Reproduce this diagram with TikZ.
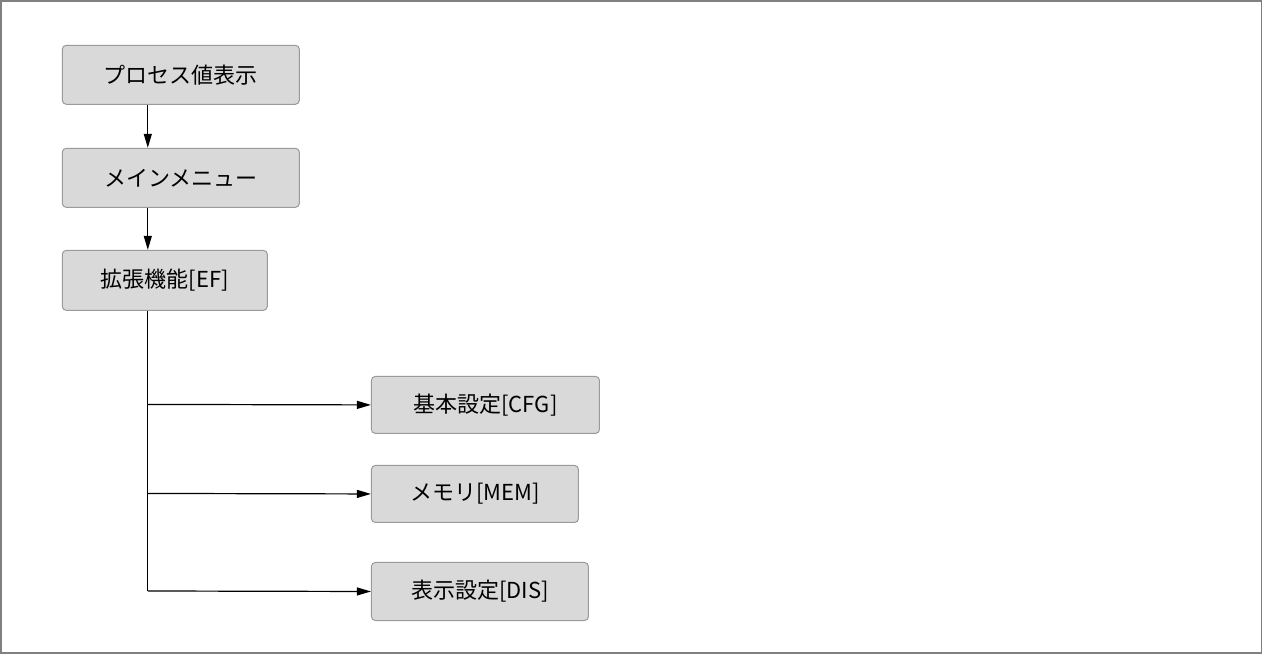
\documentclass[tikz,border=0pt]{standalone}
\usepackage{fontspec}
\setmainfont{Liberation Sans}
\newfontfamily\cjk{Noto Sans CJK JP}
\usetikzlibrary{arrows.meta}
\definecolor{boxfill}{HTML}{D9D9D9}
\definecolor{boxline}{HTML}{9A9A9A}
\begin{document}
\begin{tikzpicture}[x=1pt,y=-1pt,
  box/.style={draw=boxline,fill=boxfill,rounded corners=4pt,line width=1pt,inner sep=0pt,anchor=north west,font=\fontsize{22}{22}\selectfont\cjk},
  arr/.style={line width=1.2pt,-{Triangle[length=14pt,width=8pt]}}]
\draw[gray,line width=1.5pt] (1,1) rectangle (1261,653);
\node[box,minimum width=237pt,minimum height=59pt] (a) at (62,45) {プロセス値表示};
\node[box,minimum width=237pt,minimum height=59pt] (b) at (62,148) {メインメニュー};
\node[box,minimum width=205pt,minimum height=60pt] (c) at (62,250) {拡張機能[EF]};
\node[box,minimum width=228pt,minimum height=57pt] (d) at (371,376) {基本設定[CFG]};
\node[box,minimum width=207pt,minimum height=57pt] (e) at (371,465) {メモリ[MEM]};
\node[box,minimum width=217pt,minimum height=58pt] (f) at (371,562) {表示設定[DIS]};
\draw[arr] (a.south -| 148,0) -- (b.north -| 148,0);
\draw[arr] (b.south -| 148,0) -- (c.north -| 148,0);
\coordinate (j1) at (148,404.5);
\coordinate (j2) at (148,493.5);
\draw[line width=1.2pt] (c.south -| 148,0) -- (148,591) coordinate (j3);
\draw[arr] (j1) -- (d.west);
\draw[arr] (j2) -- (e.west);
\draw[arr] (j3) -- (f.west);
\end{tikzpicture}
\end{document}
